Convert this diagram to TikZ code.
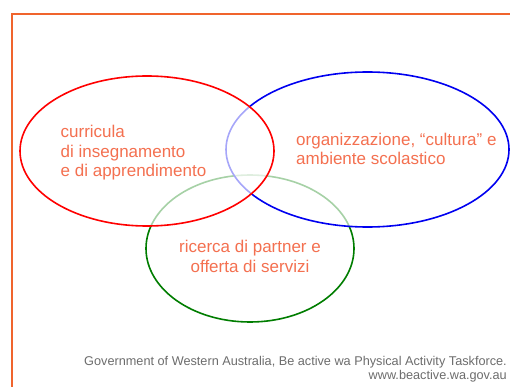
\documentclass[tikz,border=0pt]{standalone}
\usepackage{fontspec}
\setmainfont{Liberation Sans}
\begin{document}
\begin{tikzpicture}[x=1pt,y=-1pt,
  ring/.style={line width=1.6pt, fill=white, fill opacity=0.65},
  label/.style={text=lbl, font=\fontsize{17}{19.5}\selectfont, inner sep=0pt},
  credit/.style={text=gray!85!black, font=\fontsize{12.7}{14}\selectfont, inner sep=0pt, align=right}]
\definecolor{frame}{RGB}{240,100,45}
\definecolor{lbl}{RGB}{244,112,80}
\definecolor{ringred}{RGB}{255,0,0}
\definecolor{ringblue}{RGB}{0,0,240}
\definecolor{ringgreen}{RGB}{0,125,0}
\useasboundingbox (0,0) rectangle (510,387);
% outer frame, running off the right and bottom edges
\draw[frame, line width=2pt] (12,400) -- (12,14) -- (520,14);
% three overlapping fields; later ones veil the earlier ones
\draw[ring, draw=ringgreen] (250,248.5) ellipse [x radius=104, y radius=73.5];
\draw[ring, draw=ringblue] (367.5,149.5) ellipse [x radius=141.5, y radius=77.5];
\draw[ring, draw=ringred] (147,151) ellipse [x radius=127, y radius=75];
% labels (anchored at the baseline of their last line)
\node[label, anchor=base west, align=left] (cur) at (60.5,177)
  {curricula\\di insegnamento\\e di apprendimento};
\node[label, anchor=base west, align=left] (org) at (296,165)
  {organizzazione, “cultura” e\\ambiente scolastico};
\node[label, anchor=base, align=center] (ric) at (250,272)
  {ricerca di partner e\\offerta di servizi};
\node[credit, anchor=base east] (src) at (507,379)
  {Government of Western Australia, Be active wa Physical Activity Taskforce.\\www.beactive.wa.gov.au};
\end{tikzpicture}
\end{document}
